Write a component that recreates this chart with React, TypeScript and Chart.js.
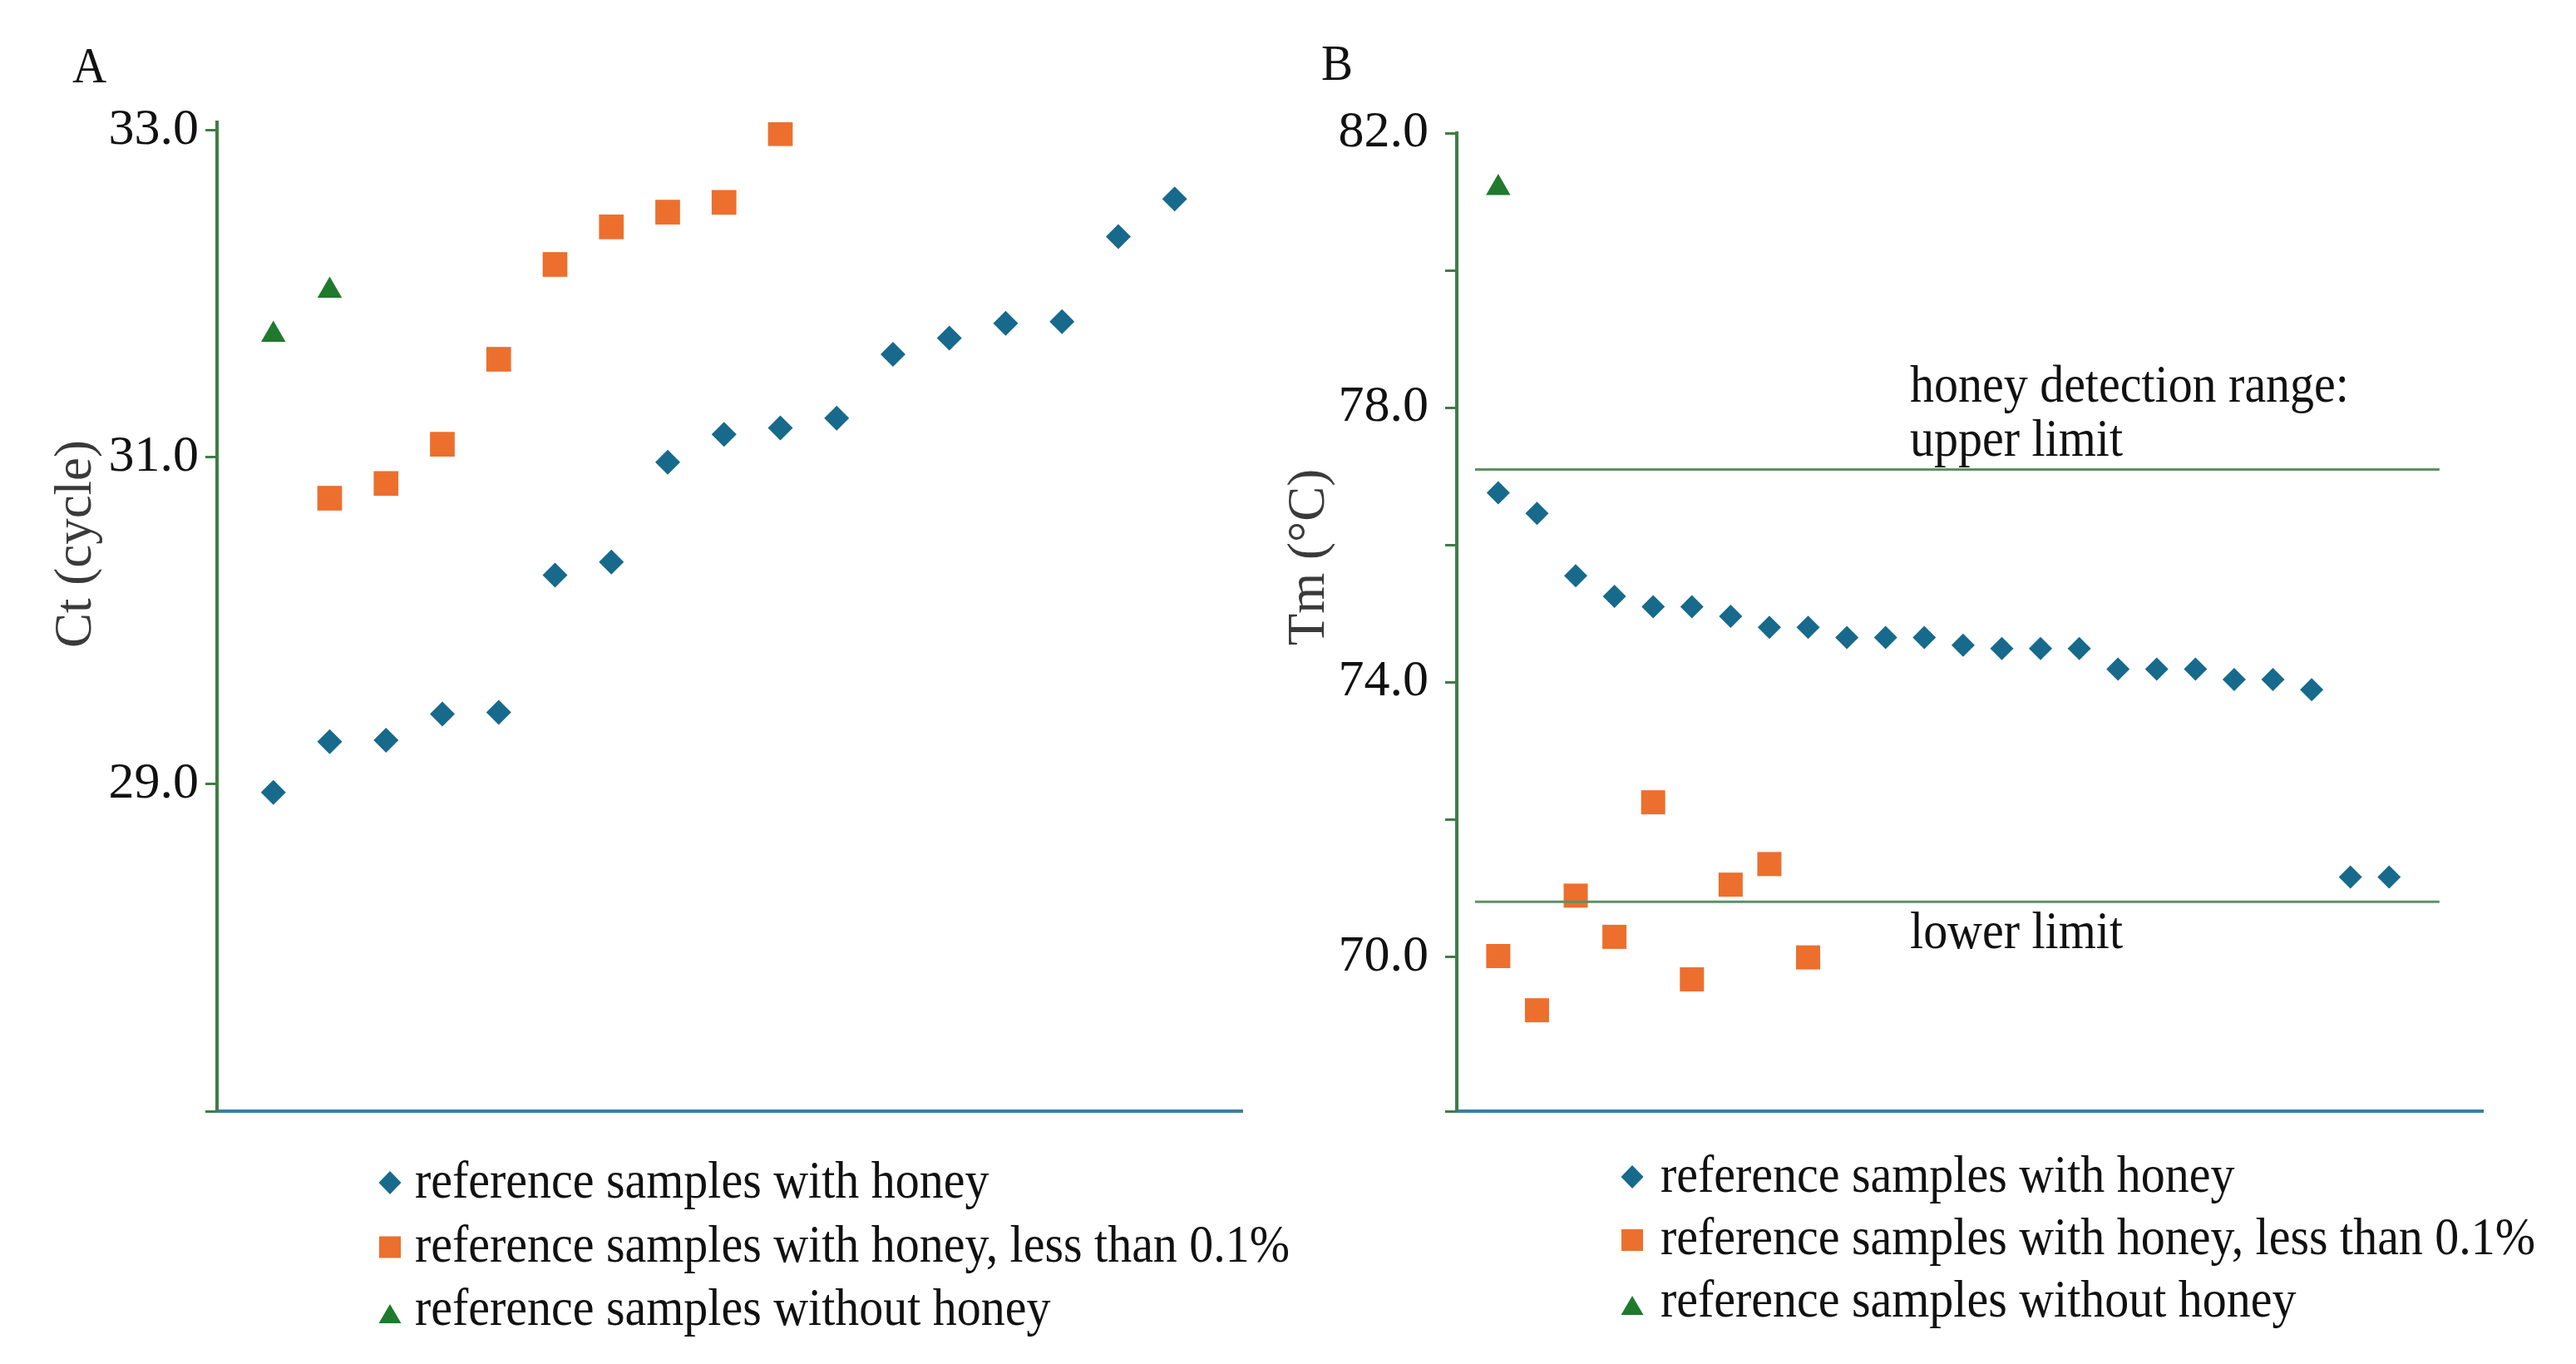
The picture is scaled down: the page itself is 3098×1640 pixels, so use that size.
import React, { useEffect, useRef } from 'react';
import { Chart, registerables } from 'chart.js';

Chart.register(...registerables);

// ---------- Panel A data (Ct, cycle) ----------
const A_X_BLUE = [1, 2, 3, 4, 5, 6, 7, 8, 9, 10, 11, 12, 13, 14, 15, 16, 17];
const A_BLUE = [28.95, 29.26, 29.27, 29.43, 29.44, 30.28, 30.36, 30.97, 31.14, 31.18, 31.24, 31.63, 31.73, 31.82, 31.83, 32.35, 32.58];
const A_X_ORANGE = [2, 3, 4, 5, 6, 7, 8, 9, 10];
const A_ORANGE = [30.75, 30.84, 31.08, 31.6, 32.18, 32.41, 32.5, 32.56, 32.98];
const A_X_GREEN = [1, 2];
const A_GREEN = [31.75, 32.02];
const A_TICKS = [27, 29, 31, 33];
const A_TICK_LABELS = [29, 31, 33];

// ---------- Panel B data (Tm, °C) ----------
const B_X_BLUE = [1, 2, 3, 4, 5, 6, 7, 8, 9, 10, 11, 12, 13, 14, 15, 16, 17, 18, 19, 20, 21, 22, 23, 24];
const B_BLUE = [76.76, 76.46, 75.55, 75.25, 75.1, 75.1, 74.96, 74.8, 74.8, 74.65, 74.65, 74.65, 74.54, 74.49, 74.49, 74.49, 74.19, 74.19, 74.19, 74.04, 74.04, 73.89, 71.16, 71.16];
const B_X_ORANGE = [1, 2, 3, 4, 5, 6, 7, 8, 9];
const B_ORANGE = [70.01, 69.22, 70.89, 70.29, 72.25, 69.67, 71.05, 71.35, 69.99];
const B_X_GREEN = [1];
const B_GREEN = [81.2];
const B_TICKS = [67.75, 70, 72, 74, 76, 78, 80, 82];
const B_TICK_LABELS = [70, 74, 78, 82];
const B_LIMITS = [77.1, 70.8];
const B_LIMIT_X = [0.4, 25.3];
const B_NOTES = ['honey detection range:', 'upper limit', 'lower limit'];
const B_NOTE_Y = [78.09, 77.3, 70.12];
const B_NOTE_X = 11.63;

const SERIES_LABELS = [
  'reference samples with honey',
  'reference samples with honey, less than 0.1%',
  'reference samples without honey',
];

const BLUE = '#176a8c';
const ORANGE = '#ec6f2e';
const GREEN = '#1f7a2d';
const AXIS_GREEN = '#3f7c45';
const AXIS_BLUE = '#3b7ea6';
const LIMIT_GREEN = '#5e9166';
const SERIF = "'Liberation Serif', 'Times New Roman', serif";

const pts = (xs: number[], ys: number[]) => ys.map((y, i) => ({ x: xs[i], y }));

type PanelCfg = {
  left: number;
  width: number;
  height: number;
  padTop: number;
  padRight: number;
  padBottom: number;
  yWidth: number;
  tickPadding: number;
  xMin: number;
  xMax: number;
  yMin: number;
  yMax: number;
  ticks: number[];
  tickLabels: number[];
  radius: { d: number; s: number; t: number };
  letter: string;
  letterX: number;
  letterY: number;
  title: string;
  titleX: number;
  titleY: number;
  legendMarkerX: number;
  legendTextX: number;
  legendBase: number;
  legendStep: number;
  blue: { x: number; y: number }[];
  orange: { x: number; y: number }[];
  green: { x: number; y: number }[];
  limits?: boolean;
};

function drawCondensed(ctx: CanvasRenderingContext2D, text: string, x: number, y: number, sx: number) {
  ctx.save();
  ctx.translate(x, y);
  ctx.scale(sx, 1);
  ctx.fillText(text, 0, 0);
  ctx.restore();
}

function overlayPlugin(cfg: PanelCfg) {
  return {
    id: 'overlay' + cfg.letter,
    afterDraw(chart: any) {
      const ctx: CanvasRenderingContext2D = chart.ctx;
      const xs = chart.scales.x;
      const ys = chart.scales.y;
      ctx.save();
      ctx.fillStyle = '#111';
      ctx.textAlign = 'left';
      ctx.textBaseline = 'alphabetic';
      // panel letter
      ctx.font = `62px ${SERIF}`;
      drawCondensed(ctx, cfg.letter, cfg.letterX, cfg.letterY, 0.92);
      // y title
      ctx.save();
      ctx.translate(cfg.titleX, cfg.titleY);
      ctx.rotate(-Math.PI / 2);
      ctx.font = `63px ${SERIF}`;
      ctx.fillStyle = '#3a3a3a';
      ctx.textAlign = 'center';
      ctx.textBaseline = 'middle';
      ctx.fillText(cfg.title, 0, 0);
      ctx.restore();
      // limit notes
      if (cfg.limits) {
        ctx.font = `63px ${SERIF}`;
        ctx.fillStyle = '#111';
        B_NOTES.forEach((t, i) => {
          drawCondensed(ctx, t, xs.getPixelForValue(B_NOTE_X), ys.getPixelForValue(B_NOTE_Y[i]), 0.92);
        });
      }
      // legend
      const colors = [BLUE, ORANGE, GREEN];
      SERIES_LABELS.forEach((label, i) => {
        const base = cfg.legendBase + i * cfg.legendStep;
        const cx = cfg.legendMarkerX;
        ctx.fillStyle = colors[i];
        ctx.beginPath();
        if (i === 0) {
          const cy = base - 18;
          ctx.moveTo(cx, cy - 14);
          ctx.lineTo(cx + 13.5, cy);
          ctx.lineTo(cx, cy + 14);
          ctx.lineTo(cx - 13.5, cy);
          ctx.closePath();
        } else if (i === 1) {
          const cy = base - 17;
          ctx.rect(cx - 13, cy - 13, 26, 26);
        } else {
          const bottom = base - 2;
          ctx.moveTo(cx, bottom - 23);
          ctx.lineTo(cx + 13.5, bottom);
          ctx.lineTo(cx - 13.5, bottom);
          ctx.closePath();
        }
        ctx.fill();
        ctx.fillStyle = '#111';
        ctx.font = `63px ${SERIF}`;
        drawCondensed(ctx, label, cfg.legendTextX, base, 0.92);
      });
      ctx.restore();
    },
  };
}

function buildChart(canvas: HTMLCanvasElement, cfg: PanelCfg) {
  const datasets: any[] = [];
  if (cfg.limits) {
    B_LIMITS.forEach((v) => {
      datasets.push({
        label: 'limit',
        data: B_LIMIT_X.map((x) => ({ x, y: v })),
        showLine: true,
        borderColor: LIMIT_GREEN,
        borderWidth: 3,
        pointRadius: 0,
        fill: false,
        order: 0,
      });
    });
  }
  datasets.push(
    {
      label: SERIES_LABELS[0],
      data: cfg.blue,
      pointStyle: 'rectRot',
      pointRadius: cfg.radius.d,
      backgroundColor: BLUE,
      borderWidth: 0,
      order: 3,
    },
    {
      label: SERIES_LABELS[1],
      data: cfg.orange,
      pointStyle: 'rect',
      pointRadius: cfg.radius.s,
      backgroundColor: ORANGE,
      borderWidth: 0,
      order: 2,
    },
    {
      label: SERIES_LABELS[2],
      data: cfg.green,
      pointStyle: 'triangle',
      pointRadius: cfg.radius.t,
      backgroundColor: GREEN,
      borderWidth: 0,
      order: 1,
    }
  );

  return new Chart(canvas, {
    type: 'scatter',
    data: { datasets },
    options: {
      animation: false,
      responsive: false,
      devicePixelRatio: 1,
      events: [],
      layout: { padding: { top: cfg.padTop, right: cfg.padRight, bottom: cfg.padBottom, left: 0 }, autoPadding: false } as any,
      plugins: { legend: { display: false }, tooltip: { enabled: false }, title: { display: false } },
      elements: { point: { borderWidth: 0 } },
      scales: {
        x: {
          type: 'linear',
          min: cfg.xMin,
          max: cfg.xMax,
          ticks: { display: false },
          grid: { drawOnChartArea: false, drawTicks: false },
          border: { display: true, color: AXIS_BLUE, width: 4 },
          afterFit: (s: any) => {
            s.height = 0;
          },
        },
        y: {
          type: 'linear',
          min: cfg.yMin,
          max: cfg.yMax,
          afterBuildTicks: (s: any) => {
            s.ticks = cfg.ticks.map((v) => ({ value: v }));
          },
          afterFit: (s: any) => {
            s.width = cfg.yWidth;
          },
          ticks: {
            autoSkip: false,
            padding: cfg.tickPadding,
            color: '#111',
            font: { family: SERIF, size: 62 },
            callback: (v: any) => (cfg.tickLabels.includes(Number(v)) ? Number(v).toFixed(1) : ''),
          },
          grid: {
            drawOnChartArea: false,
            drawTicks: true,
            tickLength: 14,
            tickColor: AXIS_GREEN,
            tickWidth: 3,
          } as any,
          border: { display: true, color: AXIS_GREEN, width: 4 },
        },
      },
    },
    plugins: [overlayPlugin(cfg)],
  } as any);
}

const PANEL_A: PanelCfg = {
  left: 0,
  width: 1549,
  height: 1640,
  padTop: 147,
  padRight: 55,
  padBottom: 304,
  yWidth: 261,
  tickPadding: 8,
  xMin: 0,
  xMax: 18.2,
  yMin: 27,
  yMax: 33.05,
  ticks: A_TICKS,
  tickLabels: A_TICK_LABELS,
  radius: { d: 15, s: 21, t: 17 },
  letter: 'A',
  letterX: 87,
  letterY: 99,
  title: 'Ct (cycle)',
  titleX: 92,
  titleY: 654,
  legendMarkerX: 469,
  legendTextX: 499,
  legendBase: 1440,
  legendStep: 76.5,
  blue: pts(A_X_BLUE, A_BLUE),
  orange: pts(A_X_ORANGE, A_ORANGE),
  green: pts(A_X_GREEN, A_GREEN),
};

const PANEL_B: PanelCfg = {
  left: 1500,
  width: 1598,
  height: 1640,
  padTop: 160,
  padRight: 112,
  padBottom: 304,
  yWidth: 252,
  tickPadding: 20,
  xMin: -0.07,
  xMax: 26.42,
  yMin: 67.75,
  yMax: 82,
  ticks: B_TICKS,
  tickLabels: B_TICK_LABELS,
  radius: { d: 14, s: 20.5, t: 17 },
  letter: 'B',
  letterX: 89,
  letterY: 96,
  title: 'Tm (°C)',
  titleX: 75,
  titleY: 670,
  legendMarkerX: 463,
  legendTextX: 497,
  legendBase: 1433,
  legendStep: 75,
  blue: pts(B_X_BLUE, B_BLUE),
  orange: pts(B_X_ORANGE, B_ORANGE),
  green: pts(B_X_GREEN, B_GREEN),
  limits: true,
};

function Panel({ cfg }: { cfg: PanelCfg }) {
  const ref = useRef<HTMLCanvasElement | null>(null);
  useEffect(() => {
    if (!ref.current) return;
    const chart = buildChart(ref.current, cfg);
    return () => chart.destroy();
  }, [cfg]);
  return (
    <canvas
      ref={ref}
      width={cfg.width}
      height={cfg.height}
      style={{ position: 'absolute', left: cfg.left, top: 0, width: cfg.width, height: cfg.height }}
    />
  );
}

export default function App() {
  return (
    <div style={{ position: 'absolute', left: 0, top: 0, width: 3098, height: 1640, background: '#fff', overflow: 'hidden' }}>
      <Panel cfg={PANEL_A} />
      <Panel cfg={PANEL_B} />
    </div>
  );
}
